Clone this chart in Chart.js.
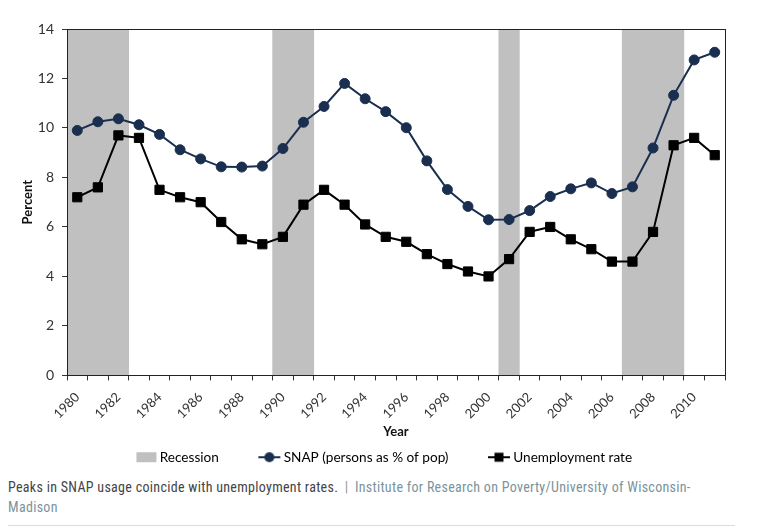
<!DOCTYPE html>
<html lang="en">
<head>
  <meta charset="utf-8">
  <title>SNAP and unemployment</title>
  <style>
    body { margin: 0; background: #fff; }
    #wrap { position: relative; width: 758px; height: 475px; }
    .caption {
      margin: 2px 23px 0 8px;
      padding-bottom: 8px;
      border-bottom: 1px solid #dcdcdc;
      font-family: "Liberation Sans Narrow", "Roboto Condensed", Roboto, sans-serif;
      font-size: 14px;
      letter-spacing: 0.3px;
      line-height: 20px;
      color: #444;
    }
    .caption .src { color: #7b939c; }
    .caption .sep { color: #999; padding: 0 3px; }
  </style>
</head>

<body>
  <div id="wrap"><canvas id="myChart"></canvas></div>
  <div class="caption">Peaks in SNAP usage coincide with unemployment rates. <span class="sep">|</span> <span class="src">Institute for Research on Poverty/University of Wisconsin-<br>Madison</span></div>

  <script src="https://cdn.jsdelivr.net/npm/chart.js@4.4.0/dist/chart.umd.min.js"></script>
  <script>
    var years = ['1980', '1981', '1982', '1983', '1984', '1985', '1986', '1987', '1988', '1989',
      '1990', '1991', '1992', '1993', '1994', '1995', '1996', '1997', '1998', '1999',
      '2000', '2001', '2002', '2003', '2004', '2005', '2006', '2007', '2008', '2009',
      '2010', '2011'];
    var snapPct = [9.9, 10.25, 10.37, 10.13, 9.74, 9.12, 8.75, 8.43, 8.42, 8.46,
      9.17, 10.23, 10.87, 11.8, 11.18, 10.66, 10.01, 8.67, 7.51, 6.83,
      6.29, 6.3, 6.66, 7.23, 7.54, 7.78, 7.35, 7.62, 9.19, 11.32,
      12.75, 13.06];
    var unemploymentRate = [7.2, 7.6, 9.7, 9.6, 7.5, 7.2, 7.0, 6.2, 5.5, 5.3,
      5.6, 6.9, 7.5, 6.9, 6.1, 5.6, 5.4, 4.9, 4.5, 4.2,
      4.0, 4.7, 5.8, 6.0, 5.5, 5.1, 4.6, 4.6, 5.8, 9.3,
      9.6, 8.9];
    var recessionYears = ['1980', '1981', '1982', '1990', '1991', '2001', '2007', '2008', '2009'];
    var yTicks = [0, 2, 4, 6, 8, 10, 12, 14];

    var yMax = yTicks[yTicks.length - 1];
    var navy = '#1a2f4f';
    var grey = '#c0c0c0';
    var font = 'Lato, "Open Sans", sans-serif';

    // little canvases used as legend icons (blank space on the left = gap between items)
    function legendIcon(kind, color) {
      var c = document.createElement('canvas');
      c.width = 57;
      c.height = 14;
      var g = c.getContext('2d');
      if (kind === 'box') {
        g.fillStyle = color;
        g.fillRect(36, 2, 20, 10);
        return c;
      }
      g.strokeStyle = color;
      g.lineWidth = 2;
      g.beginPath();
      g.moveTo(34, 7);
      g.lineTo(56, 7);
      g.stroke();
      g.fillStyle = color;
      if (kind === 'circle') {
        g.beginPath();
        g.arc(45, 7, 5, 0, Math.PI * 2);
        g.fill();
      } else {
        g.fillRect(40.5, 2.5, 9, 9);
      }
      return c;
    }

    var framePlugin = {
      id: 'frame',
      afterDatasetsDraw: function(chart) {
        var a = chart.chartArea, ctx = chart.ctx;
        ctx.save();
        ctx.strokeStyle = '#222';
        ctx.lineWidth = 1;
        ctx.strokeRect(Math.round(a.left) + 0.5, Math.round(a.top) + 0.5,
          Math.round(a.right - a.left), Math.round(a.bottom - a.top));
        ctx.restore();
      }
    };

    var ctx = document.getElementById('myChart').getContext('2d');
    var chart = new Chart(ctx, {
      type: 'bar',
      data: {
        labels: years,
        datasets: [{
          type: 'bar',
          label: 'Recession',
          data: years.map(function(y) { return recessionYears.indexOf(y) >= 0 ? yMax : null; }),
          backgroundColor: grey,
          barPercentage: 1,
          categoryPercentage: 1,
          order: 2
        }, {
          type: 'line',
          label: 'SNAP (persons as % of pop)',
          data: snapPct,
          borderColor: navy,
          backgroundColor: navy,
          borderWidth: 2,
          pointStyle: 'circle',
          pointRadius: 5,
          pointBorderWidth: 1,
          tension: 0,
          order: 0
        }, {
          type: 'line',
          label: 'Unemployment rate',
          data: unemploymentRate,
          borderColor: '#000',
          backgroundColor: '#000',
          borderWidth: 2,
          pointStyle: 'rect',
          pointRadius: 6.5,
          pointBorderWidth: 1,
          tension: 0,
          order: 1
        }]
      },
      options: {
        responsive: true,
        maintainAspectRatio: false,
        animation: false,
        layout: { padding: { left: 12, right: 33, top: 29, bottom: 1 } },
        plugins: {
          tooltip: { enabled: false },
          legend: {
            position: 'bottom',
            labels: {
              usePointStyle: true,
              pointStyleWidth: 48,
              padding: 10,
              color: '#222',
              font: { family: font, size: 13.6 },
              generateLabels: function(ch) {
                var kinds = ['box', 'circle', 'square'];
                var colors = [grey, navy, '#000'];
                return ch.data.datasets.map(function(ds, i) {
                  return {
                    text: ds.label,
                    pointStyle: legendIcon(kinds[i], colors[i]),
                    fillStyle: colors[i],
                    strokeStyle: colors[i],
                    lineWidth: 0,
                    hidden: false,
                    datasetIndex: i
                  };
                });
              }
            }
          }
        },
        scales: {
          x: {
            offset: true,
            afterFit: function(scale) { scale.height = 65; },
            grid: { offset: true, drawOnChartArea: false, tickLength: 5, color: '#333' },
            border: { color: '#222' },
            ticks: {
              autoSkip: false,
              minRotation: 45,
              maxRotation: 45,
              padding: 9,
              color: '#333',
              font: { family: font, size: 13 },
              callback: function(value, index) {
                return index % 2 === 0 ? this.getLabelForValue(value) : '';
              }
            },
            title: {
              display: true,
              text: 'Year',
              color: '#111',
              font: { family: font, size: 13, weight: 'bold' },
              padding: { top: 0, bottom: 1 }
            }
          },
          y: {
            min: 0,
            max: yMax,
            afterFit: function(scale) { scale.width = 55; },
            afterBuildTicks: function(scale) {
              scale.ticks = yTicks.map(function(v) { return { value: v }; });
            },
            grid: { drawOnChartArea: false, tickLength: 5, color: '#333' },
            border: { color: '#222' },
            ticks: {
              padding: 8,
              color: '#333',
              font: { family: font, size: 14 }
            },
            title: {
              display: true,
              text: 'Percent',
              color: '#111',
              font: { family: font, size: 13, weight: 'bold' },
              padding: { top: 8, bottom: 2 }
            }
          }
        }
      },
      plugins: [framePlugin]
    });
  </script>
</body>
</html>
